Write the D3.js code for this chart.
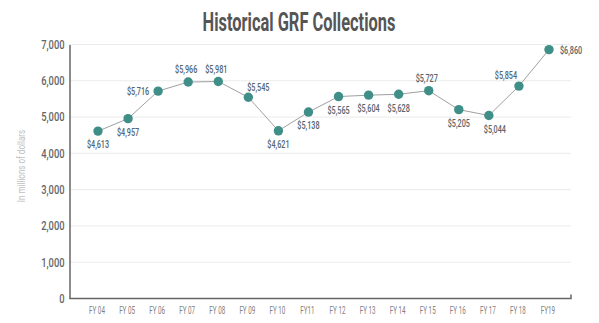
<!DOCTYPE html>
<html>
<head>
<meta charset="utf-8">
<script src="https://cdn.jsdelivr.net/npm/d3@7"></script>
<style>
  html, body { margin: 0; padding: 0; background: #fff; }
  svg { display: block; }
  text { font-family: Roboto, "Noto Sans", sans-serif; }
</style>
</head>
<body>
<svg id="chart" width="599" height="323"></svg>
<script>
// Fiscal years and GRF collections (millions of dollars)
const years = ["FY 04","FY 05","FY 06","FY 07","FY 08","FY 09","FY 10","FY11","FY 12","FY 13","FY 14","FY 15","FY 16","FY 17","FY 18","FY19"];
const collections = [4613, 4957, 5716, 5966, 5981, 5545, 4621, 5138, 5565, 5604, 5628, 5727, 5205, 5044, 5854, 6860];
const yTicks = [0, 1000, 2000, 3000, 4000, 5000, 6000, 7000];
// Where each value label sits relative to its point
const labelSide = ["below","below","left","above","above","aboveRight","below","below","below","below","below","above","below","belowRight","aboveLeft","right"];

const svg = d3.select("#chart");
const plotLeft = 69.5, plotRight = 571, plotTop = 44.5, plotBottom = 298.5;

const x = d3.scalePoint().domain(years).range([98, 549]);
const y = d3.scaleLinear().domain([0, 7000]).range([plotBottom, plotTop]);

// Narrow a text horizontally (condensed look) while keeping its anchor point
function squeeze(sel, k) {
  sel.each(function () {
    const t = d3.select(this);
    const x0 = +t.attr("x") || 0;
    const prev = t.attr("transform") || "";
    t.attr("x", x0 / k).attr("transform", `${prev} scale(${k},1)`.trim());
  });
}

// Title
svg.append("text")
  .attr("x", 299).attr("y", 31)
  .attr("text-anchor", "middle")
  .attr("font-size", 26.5).attr("font-weight", "bold")
  .attr("fill", "#555")
  .text("Historical GRF Collections")
  .call(squeeze, 0.62);

// Gridlines
svg.append("g").selectAll("line")
  .data(yTicks.filter(d => d > 0))
  .join("line")
  .attr("x1", plotLeft).attr("x2", plotRight)
  .attr("y1", d => y(d)).attr("y2", d => y(d))
  .attr("stroke", "#ebebeb").attr("stroke-width", 1);

// Y axis
const yAxis = svg.append("g")
  .attr("transform", `translate(${plotLeft},0)`)
  .call(d3.axisLeft(y).tickValues(yTicks).tickFormat(d3.format(",")).tickSize(0).tickPadding(5));
yAxis.select(".domain").attr("stroke", "#666").attr("stroke-width", 1.5);
yAxis.selectAll("text").attr("font-size", 12).attr("font-weight", 500).attr("fill", "#666")
  .attr("font-family", "Roboto, sans-serif").call(squeeze, 0.78);

// X axis
const xAxis = svg.append("g")
  .attr("transform", `translate(-1.5,${plotBottom})`)
  .call(d3.axisBottom(x).tickSize(0).tickPadding(8));
xAxis.select(".domain").remove();
xAxis.selectAll("text").attr("font-size", 10.5).attr("fill", "#808080")
  .attr("font-family", "Roboto, sans-serif").call(squeeze, 0.6);
svg.append("path")
  .attr("d", `M${plotLeft},${plotBottom}H${plotRight}V${plotBottom - 4}`)
  .attr("fill", "none").attr("stroke", "#666").attr("stroke-width", 1.5);

// Y axis title (rotated, so squeeze along its own reading direction)
svg.append("g")
  .attr("transform", `translate(25,166) rotate(-90)`)
  .append("text")
  .attr("text-anchor", "middle")
  .attr("font-size", 11.5).attr("fill", "#c0c0c0")
  .text("In millions of dollars")
  .call(squeeze, 0.7);

// Line
const pts = years.map((yr, i) => ({ yr, v: collections[i], side: labelSide[i] }));
svg.append("path")
  .datum(pts)
  .attr("d", d3.line().x(d => x(d.yr)).y(d => y(d.v)))
  .attr("fill", "none").attr("stroke", "#a0a0a0").attr("stroke-width", 1);

// Points
svg.append("g").selectAll("circle")
  .data(pts)
  .join("circle")
  .attr("cx", d => x(d.yr)).attr("cy", d => y(d.v))
  .attr("r", 4.7).attr("fill", "#3f8f88");

// Value labels
const offsets = {
  below: [0, 13.5, "middle"],
  above: [-2, -12.5, "middle"],
  left: [-9, 0, "end"],
  right: [11, 1, "start"],
  aboveRight: [10, -10, "middle"],
  aboveLeft: [-13, -11, "middle"],
  belowRight: [6, 13.5, "middle"]
};
const fmt = d3.format(",");
svg.append("g").selectAll("text")
  .data(pts)
  .join("text")
  .attr("x", d => x(d.yr) + offsets[d.side][0])
  .attr("y", d => y(d.v) + offsets[d.side][1])
  .attr("dy", "0.35em")
  .attr("text-anchor", d => offsets[d.side][2])
  .attr("font-size", 11).attr("font-weight", 500).attr("fill", "#55666e")
  .text(d => "$" + fmt(d.v))
  .call(squeeze, 0.66);
</script>
</body>
</html>
